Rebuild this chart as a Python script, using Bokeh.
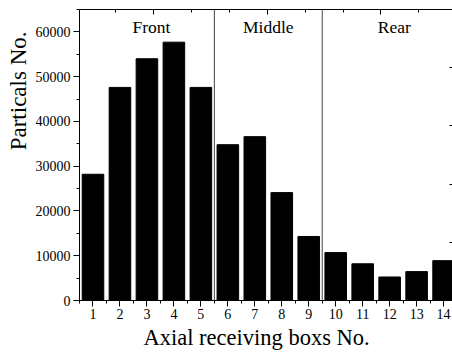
from bokeh.plotting import figure
from bokeh.models import (LinearAxis, Range1d, SingleIntervalTicker, Span, Title,
                          ColumnDataSource, BasicTickFormatter, CustomJSTickFormatter)
from bokeh.core.properties import value
from bokeh.embed import file_html
from bokeh.resources import INLINE

# ---- data ----
boxes = [1, 2, 3, 4, 5, 6, 7, 8, 9, 10, 11, 12, 13, 14]
particles = [28200, 47600, 54000, 57700, 47600, 34800, 36600, 24100, 14300,
             10700, 8200, 5250, 6450, 8900]
region_names = ["Front", "Middle", "Rear"]
region_bounds = [5.5, 9.5]

FONT = "Liberation Serif"

p = figure(width=452, height=354, output_backend="svg", toolbar_location=None,
           x_range=Range1d(0.5, 14.33), y_range=Range1d(0, 65000),
           min_border_left=79, min_border_right=0, min_border_top=9,
           min_border_bottom=54)
p.background_fill_color = "white"
p.border_fill_color = "white"
p.outline_line_color = None
p.xgrid.visible = False
p.ygrid.visible = False

src = ColumnDataSource(dict(x=boxes, top=particles))
p.vbar(x="x", top="top", width=0.8, bottom=0, source=src,
       fill_color="black", line_color="black", line_width=1)

for b in region_bounds:
    p.add_layout(Span(location=b, dimension="height", line_color="#444444",
                      line_width=1))

p.text(x=[3.17, 7.5, 12.17], y=[61000, 61000, 61000], text=region_names,
       text_font=value(FONT), text_font_size="17.5px", text_align="center",
       text_baseline="middle", text_color="black")

# bottom axis
xa = p.xaxis[0]
xa.ticker = SingleIntervalTicker(interval=1, num_minor_ticks=2)
xa.major_label_text_font = FONT
xa.major_label_text_font_size = "14px"
xa.major_label_text_color = "black"
xa.major_tick_out = 6
xa.major_tick_in = 0
xa.minor_tick_out = 3
xa.minor_tick_in = 0
xa.major_label_standoff = 2
xa.axis_line_color = "black"

# left axis
ya = p.yaxis[0]
ya.ticker = SingleIntervalTicker(interval=10000, num_minor_ticks=2)
ya.formatter = BasicTickFormatter(use_scientific=False)
ya.major_label_text_font = FONT
ya.major_label_text_font_size = "14px"
ya.major_label_text_color = "black"
ya.major_tick_out = 6
ya.major_tick_in = 0
ya.minor_tick_out = 3
ya.minor_tick_in = 0
ya.major_label_standoff = 3
ya.axis_line_color = "black"

blank = CustomJSTickFormatter(code="return ''")

# top (mirror) axis with its own scale
p.extra_x_ranges = {"top": Range1d(0.3454, 3.63)}
ta = LinearAxis(x_range_name="top",
                ticker=SingleIntervalTicker(interval=1, num_minor_ticks=3),
                formatter=blank,
                major_tick_in=5, major_tick_out=0, minor_tick_in=3, minor_tick_out=0,
                major_label_text_font_size="1px", major_label_standoff=0,
                axis_line_color="black")
p.add_layout(ta, "above")

# right (mirror) axis: ticks only, its line falls just outside the picture
p.extra_y_ranges = {"right": Range1d(0, 5)}
ra = LinearAxis(y_range_name="right",
                ticker=SingleIntervalTicker(interval=1, num_minor_ticks=0),
                formatter=blank,
                major_tick_in=3, major_tick_out=0, minor_tick_in=0, minor_tick_out=0,
                major_label_text_font_size="1px", major_label_standoff=0,
                axis_line_color=None)
p.add_layout(ra, "right")

# axis titles
p.add_layout(Title(text="Particals No.", align="right", offset=22,
                   vertical_align="middle", text_font=FONT, text_font_size="23px",
                   text_font_style="normal", text_color="black", standoff=2), "left")
p.add_layout(Title(text="Axial receiving boxs No.", align="left", offset=64,
                   vertical_align="top", text_font=FONT, text_font_size="22.5px",
                   text_font_style="normal", text_color="black", standoff=6), "below")

open("out.html", "w").write(file_html(p, INLINE))
